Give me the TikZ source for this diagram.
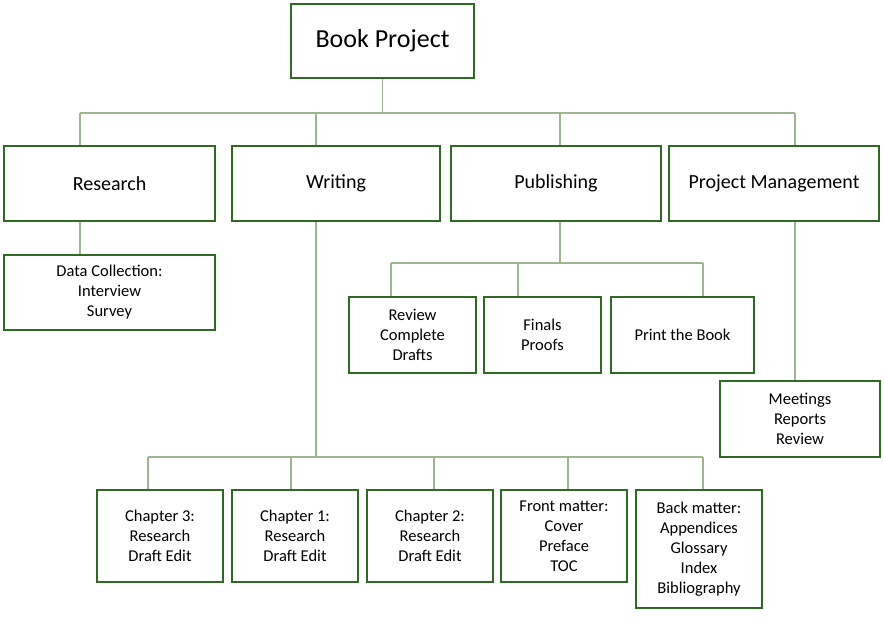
\documentclass[tikz,border=0pt]{standalone}
\usepackage{fontspec}
\setmainfont{Carlito}
\definecolor{boxgreen}{HTML}{2F6A22}
\definecolor{linegreen}{HTML}{9EB592}
\tikzset{
  box/.style={draw=boxgreen, line width=2.4pt, fill=white, align=center, inner sep=2pt, font=\fontsize{16.5}{20}\selectfont},
  head/.style={box, minimum height=75pt, font=\fontsize{20}{24}\selectfont},
  link/.style={draw=linegreen, line width=1.2pt},
}
\begin{document}
\begin{tikzpicture}[x=1pt,y=-1pt]
\useasboundingbox (0,0) rectangle (884,618);

\node [box,minimum width=183pt,minimum height=74pt,font=\fontsize{26}{30}\selectfont] (book) at (382.5,41) {Book Project};

\node [head,minimum width=211pt] (research) at (109.5,183.5) {Research};
\node [head,minimum width=208pt] (writing) at (336,183.5) {Writing};
\node [head,minimum width=210pt] (publishing) at (556,183.5) {Publishing};
\node [head,minimum width=210pt] (pm) at (774,183.5) {Project Management};

\node [box,minimum width=211pt,minimum height=75pt] (data) at (109.5,292.5) {Data Collection:\\Interview\\Survey};

\node [box,minimum width=127pt,minimum height=76pt] (review) at (412.5,335) {Review\\Complete\\Drafts};
\node [box,minimum width=117pt,minimum height=76pt] (finals) at (542.5,335) {Finals\\Proofs};
\node [box,minimum width=143pt,minimum height=76pt] (print) at (682.5,335) {Print the Book};

\node [box,minimum width=160pt,minimum height=76pt] (meetings) at (800,419) {Meetings\\Reports\\Review};

\node [box,minimum width=126pt,minimum height=92pt] (ch3) at (160,536) {Chapter 3:\\Research\\Draft Edit};
\node [box,minimum width=126pt,minimum height=92pt] (ch1) at (295,536) {Chapter 1:\\Research\\Draft Edit};
\node [box,minimum width=126pt,minimum height=92pt] (ch2) at (430,536) {Chapter 2:\\Research\\Draft Edit};
\node [box,minimum width=126pt,minimum height=92pt] (front) at (564,536) {Front matter:\\Cover\\Preface\\TOC};
\node [box,minimum width=126pt,minimum height=118pt] (back) at (699,549) {Back matter:\\Appendices\\Glossary\\Index\\Bibliography};

% top level
\draw [link] (book.south) -- (382.5,113);
\draw [link] (80,113) -- (795,113);
\foreach \x/\n in {80/research,316/writing,560/publishing,795/pm}
  \draw [link] (\x,113) -- (\n.north -| \x,0);

% research
\draw [link] (research.south -| 80,0) -- (data.north -| 80,0);

% publishing
\draw [link] (publishing.south -| 560,0) -- (560,263);
\draw [link] (391,263) -- (703,263);
\foreach \x/\n in {391/review,518/finals,703/print}
  \draw [link] (\x,263) -- (\n.north -| \x,0);

% project management
\draw [link] (pm.south -| 795,0) -- (meetings.north -| 795,0);

% writing
\draw [link] (writing.south -| 316,0) -- (316,457);
\draw [link] (148,457) -- (703,457);
\foreach \x/\n in {148/ch3,291/ch1,434/ch2,568/front,703/back}
  \draw [link] (\x,457) -- (\n.north -| \x,0);
\end{tikzpicture}
\end{document}
